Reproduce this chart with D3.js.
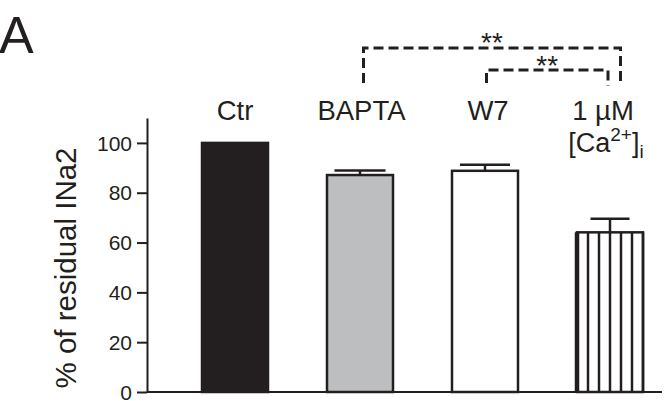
<!DOCTYPE html>
<html>
<head>
<meta charset="utf-8">
<script src="https://cdn.jsdelivr.net/npm/d3@7/dist/d3.min.js"></script>
<style>
  html, body { margin: 0; padding: 0; background: #fff; }
  svg { display: block; }
  text { font-family: "Liberation Sans", Arial, Helvetica, sans-serif; fill: #231f20; }
</style>
</head>
<body>
<svg id="chart" width="667" height="401"></svg>
<script>
// ---- data ----
const categories = ["Ctr", "BAPTA", "W7", "1 µM"];
const values = [100, 87.1, 88.8, 64.1];
const errors = [0, 1.8, 2.4, 5.5];
const yTicks = [0, 20, 40, 60, 80, 100];
const yLabel = "% of residual INa2";
const panelLabel = "A";
const significance = [
  { from: "BAPTA", to: "1 µM", label: "**" },
  { from: "W7", to: "1 µM", label: "**" }
];

// ---- layout ----
const ink = "#231f20";
const svg = d3.select("#chart");
svg.append("rect").attr("width", 667).attr("height", 401).attr("fill", "#fff");

const y = d3.scaleLinear().domain([0, 110]).range([392, 118]);
const x = d3.scaleBand().domain(categories)
  .range([139.5, 705.5]).paddingInner(0.472).paddingOuter(0.5);
const axisX = 147;

// panel label
svg.append("text").attr("x", -1).attr("y", 53)
  .attr("font-size", 52).text(panelLabel);

// y axis
const yAxis = svg.append("g").attr("transform", `translate(${axisX},0)`)
  .call(d3.axisLeft(y).tickValues(yTicks).tickSize(10).tickSizeOuter(0).tickPadding(5));
yAxis.select(".domain").attr("stroke", ink).attr("stroke-width", 2);
yAxis.selectAll(".tick line").attr("stroke", ink).attr("stroke-width", 2);
yAxis.selectAll(".tick text").attr("font-size", 21)
  .attr("font-family", "'Liberation Sans', Arial, sans-serif").attr("fill", ink)
  .attr("dy", "0.34em");

// x axis baseline
svg.append("line").attr("x1", axisX).attr("x2", 662)
  .attr("y1", y(0)).attr("y2", y(0)).attr("stroke", ink).attr("stroke-width", 2);

// y axis title
svg.append("text")
  .attr("transform", `translate(76,${268}) rotate(-90)`)
  .attr("text-anchor", "middle").attr("font-size", 29.5)
  .text(yLabel);

// bars
const fills = ["#231f20", "#bcbec0", "#ffffff", "#ffffff"];
const bars = svg.append("g");
categories.forEach((c, i) => {
  const x0 = x(c), bw = x.bandwidth();
  bars.append("rect")
    .attr("x", x0).attr("y", y(values[i]))
    .attr("width", bw).attr("height", y(0) - y(values[i]))
    .attr("fill", fills[i]).attr("stroke", ink).attr("stroke-width", 2.5);
  if (i === 3) {
    // vertical stripes
    for (let k = 0; k <= 6; k++) {
      const xx = x0 + k * bw / 6;
      bars.append("line").attr("x1", xx).attr("x2", xx)
        .attr("y1", y(values[i])).attr("y2", y(0))
        .attr("stroke", ink).attr("stroke-width", k === 0 ? 4.5 : 2.5);
    }
  }
});

// error bars
const caps = [50, 51, 50, 39];
categories.forEach((c, i) => {
  if (!errors[i]) return;
  const cx = x(c) + x.bandwidth() / 2;
  svg.append("line").attr("x1", cx).attr("x2", cx)
    .attr("y1", y(values[i])).attr("y2", y(values[i] + errors[i]))
    .attr("stroke", ink).attr("stroke-width", 2.5);
  svg.append("line").attr("x1", cx - caps[i] / 2).attr("x2", cx + caps[i] / 2)
    .attr("y1", y(values[i] + errors[i])).attr("y2", y(values[i] + errors[i]))
    .attr("stroke", ink).attr("stroke-width", 2.5);
});

// category labels
const labelG = svg.append("g").attr("font-size", 27.5).attr("text-anchor", "middle");
const labelShift = [0, 1.5, 3, -7];
categories.forEach((c, i) => {
  const cx = x(c) + x.bandwidth() / 2 + labelShift[i];
  labelG.append("text").attr("x", cx).attr("y", 120).text(c);
});
// second line of last label: [Ca2+]i
const ca = labelG.append("text")
  .attr("x", x(categories[3]) + x.bandwidth() / 2 - 4).attr("y", 152)
  .attr("font-size", 27);
ca.append("tspan").text("[Ca");
ca.append("tspan").attr("font-size", 19).attr("dy", -11).text("2+");
ca.append("tspan").attr("dy", 11).text("]");
ca.append("tspan").attr("font-size", 19).attr("dy", 6).text("i");

// significance brackets
const cxOf = c => x(c) + x.bandwidth() / 2;
const brackets = [
  { s: significance[0], top: 48, x1off: 3.5, x2off: 10.5, lBot: 83, rBot: 86, ty: 52 },
  { s: significance[1], top: 70, x1off: 1.5, x2off: -2, lBot: 83, rBot: 86, ty: 75 }
];
brackets.forEach(b => {
  const x1 = cxOf(b.s.from) + b.x1off, x2 = cxOf(b.s.to) + b.x2off;
  svg.append("path")
    .attr("d", `M${x1},${b.lBot} V${b.top} H${x2} V${b.rBot}`)
    .attr("fill", "none").attr("stroke", ink).attr("stroke-width", 3)
    .attr("stroke-dasharray", "10,5");
  svg.append("text").attr("x", (x1 + x2) / 2).attr("y", b.ty)
    .attr("text-anchor", "middle").attr("font-size", 28).text(b.s.label);
});
</script>
</body>
</html>
